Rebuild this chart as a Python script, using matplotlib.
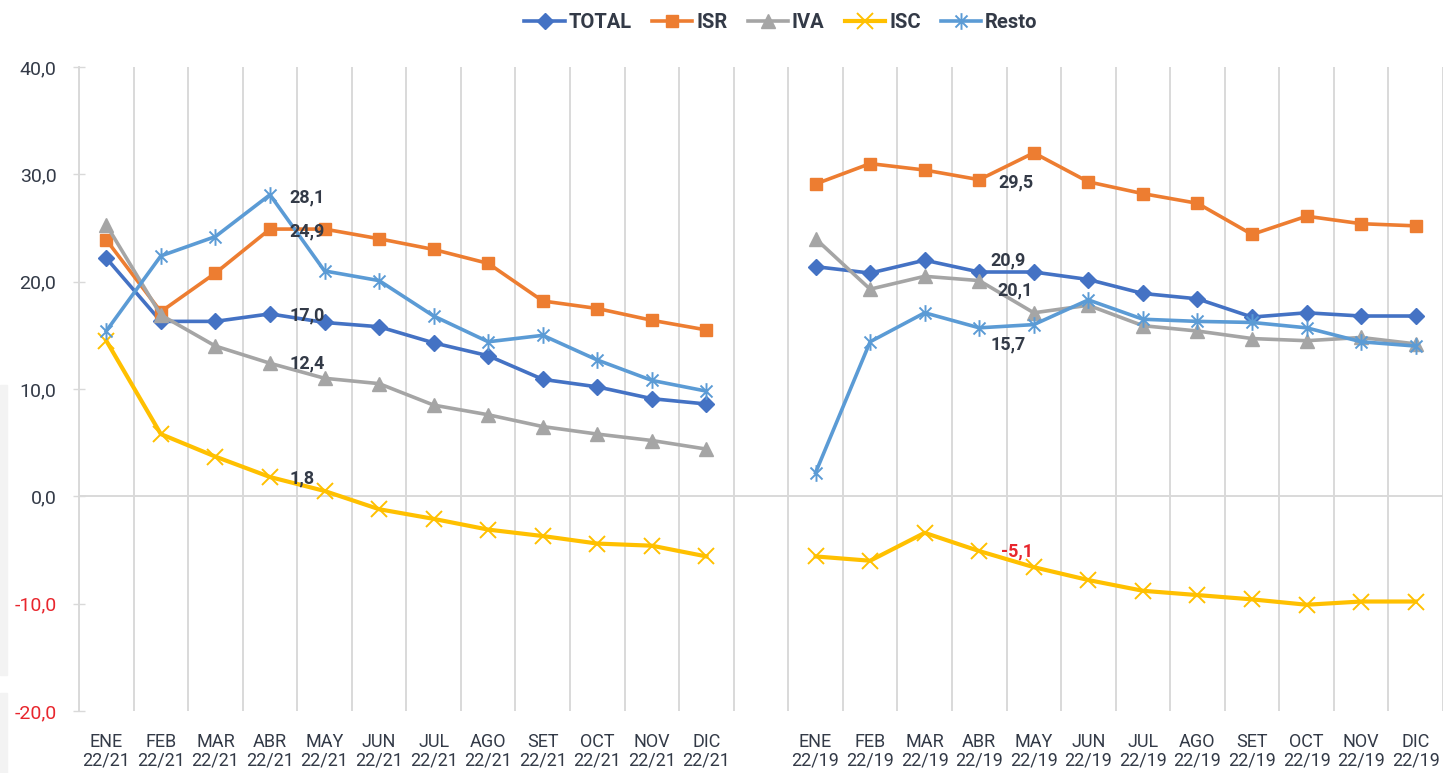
from __future__ import annotations

import matplotlib

matplotlib.use("Agg")
import matplotlib.pyplot as plt
import numpy as np
from matplotlib import font_manager
from matplotlib.path import Path


OUTPUT_FILE = "out.png"

MONTHS = ["ENE", "FEB", "MAR", "ABR", "MAY", "JUN", "JUL", "AGO", "SET", "OCT", "NOV", "DIC"]
PERIOD_A = "22/21"
PERIOD_B = "22/19"

# values, 12 months per comparison period
TOTAL_A = [22.2, 16.3, 16.3, 17.0, 16.2, 15.8, 14.3, 13.1, 10.9, 10.2, 9.1, 8.6]
TOTAL_B = [21.4, 20.8, 22.0, 20.9, 20.9, 20.2, 18.9, 18.4, 16.7, 17.1, 16.8, 16.8]
ISR_A = [23.9, 17.2, 20.8, 24.9, 24.9, 24.0, 23.0, 21.7, 18.2, 17.5, 16.4, 15.5]
ISR_B = [29.1, 31.0, 30.4, 29.5, 32.0, 29.3, 28.2, 27.3, 24.4, 26.1, 25.4, 25.2]
IVA_A = [25.3, 16.9, 14.0, 12.4, 11.0, 10.5, 8.5, 7.6, 6.5, 5.8, 5.2, 4.4]
IVA_B = [24.0, 19.3, 20.5, 20.1, 17.1, 17.8, 15.9, 15.4, 14.7, 14.5, 14.8, 14.2]
ISC_A = [14.5, 5.8, 3.7, 1.8, 0.5, -1.2, -2.1, -3.1, -3.7, -4.4, -4.6, -5.6]
ISC_B = [-5.6, -6.0, -3.4, -5.1, -6.6, -7.8, -8.8, -9.2, -9.6, -10.1, -9.8, -9.8]
RESTO_A = [15.4, 22.4, 24.2, 28.1, 21.0, 20.1, 16.8, 14.4, 15.0, 12.7, 10.8, 9.8]
RESTO_B = [2.2, 14.4, 17.1, 15.7, 16.0, 18.3, 16.5, 16.3, 16.2, 15.7, 14.4, 14.0]

SERIES_NAMES = ["TOTAL", "ISR", "IVA", "ISC", "Resto"]
LABELLED_MONTH = "ABR"

TEXT_DARK = "#333a47"
TEXT_RED = "#e8262d"
GRID_GREY = "#d9d9d9"

ASTERISK = Path(
    [(0, -1), (0, 1), (-0.72, -0.72), (0.72, 0.72), (-0.72, 0.72), (0.72, -0.72)],
    [Path.MOVETO, Path.LINETO, Path.MOVETO, Path.LINETO, Path.MOVETO, Path.LINETO],
)

STYLES = {
    "TOTAL": dict(color="#4472c4", marker="D", markersize=8.5, linewidth=2.6),
    "ISR": dict(color="#ed7d31", marker="s", markersize=8.5, linewidth=2.6),
    "IVA": dict(color="#a5a5a5", marker="^", markersize=9.5, linewidth=2.6),
    "ISC": dict(color="#ffc000", marker="x", markersize=11, markeredgewidth=1.4, linewidth=3.0),
    "Resto": dict(color="#5b9bd5", marker=ASTERISK, markersize=12, markeredgewidth=1.4, linewidth=2.6),
}

# label offsets in points (right of the point, up positive)
LABEL_OFFSETS_A = {"TOTAL": (14, -1), "ISR": (14, -2), "IVA": (14, 0), "ISC": (14, -1), "Resto": (14, -2)}
LABEL_OFFSETS_B = {"TOTAL": (8, 8), "ISR": (14, -2), "IVA": (13, -7), "ISC": (16, 0), "Resto": (8, -12)}


def pick_font(candidates):
    available = {f.name for f in font_manager.fontManager.ttflist}
    for name in candidates:
        if name in available:
            return name
    return "DejaVu Sans"


def join_periods(first, second):
    """Put both periods on one axis with an empty slot between them."""
    return np.array(list(first) + [np.nan] + list(second), dtype=float)


def fmt(value):
    return f"{value:.1f}".replace(".", ",")


def main():
    regular = pick_font(["Roboto", "Lato", "DejaVu Sans"])
    narrow = pick_font(["Liberation Sans Narrow", "Roboto", "DejaVu Sans"])
    plt.rcParams["font.family"] = [regular, "DejaVu Sans"]

    data = {
        "TOTAL": join_periods(TOTAL_A, TOTAL_B),
        "ISR": join_periods(ISR_A, ISR_B),
        "IVA": join_periods(IVA_A, IVA_B),
        "ISC": join_periods(ISC_A, ISC_B),
        "Resto": join_periods(RESTO_A, RESTO_B),
    }
    labels = [f"{m}\n{PERIOD_A}" for m in MONTHS] + [""] + [f"{m}\n{PERIOD_B}" for m in MONTHS]
    x = np.arange(len(labels))

    fig = plt.figure(figsize=(14.45, 7.73), dpi=100)
    ax = fig.add_axes([79 / 1445, 1 - 711 / 773, 1364 / 1445, 644 / 773])

    # faint decoration at the left edge of the page
    fig.patches.append(plt.Rectangle((0, 1 - 675 / 773), 7 / 1445, 290 / 773,
                                     transform=fig.transFigure, color="#f3f3f3", zorder=0))
    fig.patches.append(plt.Rectangle((0, 0), 7 / 1445, 80 / 773,
                                     transform=fig.transFigure, color="#f3f3f3", zorder=0))

    handles = []
    for name in SERIES_NAMES:
        (line,) = ax.plot(x, data[name], label=name, zorder=3, solid_joinstyle="round", **STYLES[name])
        handles.append(line)

    # value labels for April of both periods
    idx_a = MONTHS.index(LABELLED_MONTH)
    idx_b = idx_a + len(MONTHS) + 1
    for name in SERIES_NAMES:
        for idx, offsets in ((idx_a, LABEL_OFFSETS_A), (idx_b, LABEL_OFFSETS_B)):
            value = data[name][idx]
            colour = TEXT_RED if value < 0 else TEXT_DARK
            ax.annotate(fmt(value), (x[idx], value), xytext=offsets[name], textcoords="offset points",
                        ha="left", va="center", fontsize=13, fontweight="bold", color=colour, zorder=5)

    ax.set_xlim(-0.5, len(labels) - 0.5)
    ax.set_ylim(-20, 40)
    ax.set_yticks(np.arange(-20, 41, 10))
    ax.set_yticklabels([fmt(v) for v in np.arange(-20, 41, 10)])
    for tick_label, value in zip(ax.get_yticklabels(), np.arange(-20, 41, 10)):
        tick_label.set_color(TEXT_RED if value < 0 else TEXT_DARK)
    ax.tick_params(axis="y", direction="inout", length=8.5, width=1, color=GRID_GREY, pad=12, labelsize=14)

    ax.set_xticks(x)
    ax.set_xticklabels(labels, fontsize=13, family=narrow, color=TEXT_DARK, linespacing=1.05)
    ax.tick_params(axis="x", length=0, pad=16)
    ax.set_xticks(np.arange(-0.5, len(labels), 1.0), minor=True)
    ax.tick_params(axis="x", which="minor", length=0)
    ax.grid(True, axis="x", which="minor", color=GRID_GREY, linewidth=1.4, zorder=0)
    ax.axhline(0, color=GRID_GREY, linewidth=1.4, zorder=1)

    for side in ("top", "right", "bottom"):
        ax.spines[side].set_visible(False)
    ax.spines["left"].set_color(GRID_GREY)
    ax.spines["left"].set_linewidth(1.4)
    ax.set_axisbelow(True)

    fig.legend(handles=handles, loc="center", bbox_to_anchor=(781 / 1445, 1 - 23 / 773), ncol=5,
               frameon=False, handlelength=2.0, handletextpad=0.2, columnspacing=1.0,
               prop={"family": regular, "weight": "bold", "size": 14.5}, labelcolor=TEXT_DARK)

    fig.savefig(OUTPUT_FILE, dpi=100, facecolor="white")
    plt.close(fig)


if __name__ == "__main__":
    main()
